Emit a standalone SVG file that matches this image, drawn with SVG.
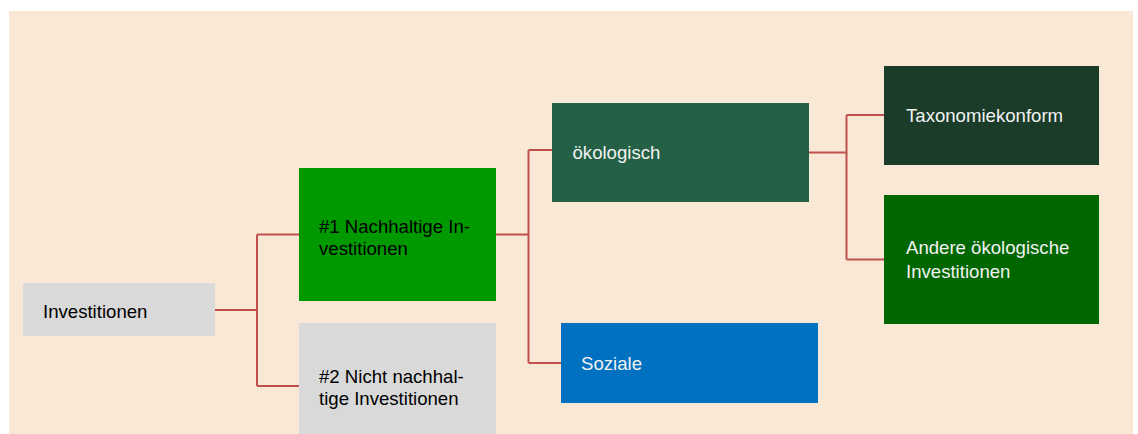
<svg xmlns="http://www.w3.org/2000/svg" width="1138" height="434" viewBox="0 0 1138 434">
<style>
.t{font-family:"Liberation Sans",Arial,sans-serif;font-size:18.6px}
.dk{fill:#000}
.lt{fill:#F2F2F2}
.c{fill:none;stroke:#C0504D;stroke-width:2}
</style>
<rect x="0" y="0" width="1138" height="434" fill="#FFFFFF"/>
<rect x="9" y="11" width="1124" height="423" fill="#FAE8D7"/>
<g id="connectors">
<path class="c" d="M215,310 H257 M257,234.5 V386 M257,234.5 H299 M257,386 H299"/>
<path class="c" d="M496,234.5 H528.5 M528.5,150 V363 M528.5,150 H552 M528.5,363 H561"/>
<path class="c" d="M809,152.5 H846.5 M846.5,115 V259.5 M846.5,115 H884 M846.5,259.5 H884"/>
</g>
<g id="n-investitionen">
<rect x="23" y="283" width="192" height="53" fill="#D9D9D9"/>
<text class="t dk" x="43" y="318">Investitionen</text>
</g>
<g id="n-nachhaltig">
<rect x="299" y="168" width="197" height="133" fill="#009900"/>
<text class="t dk" x="319" y="232.5">#1 Nachhaltige In-</text>
<text class="t dk" x="319" y="254.5">vestitionen</text>
</g>
<g id="n-nicht">
<rect x="299" y="323" width="197" height="111" fill="#D9D9D9"/>
<text class="t dk" x="319" y="383">#2 Nicht nachhal-</text>
<text class="t dk" x="319" y="405">tige Investitionen</text>
</g>
<g id="n-oekologisch">
<rect x="552" y="103" width="257" height="99" fill="#246046"/>
<text class="t lt" x="572.5" y="159">ökologisch</text>
</g>
<g id="n-soziale">
<rect x="561" y="323" width="257" height="80" fill="#0070C0"/>
<text class="t lt" x="581" y="370">Soziale</text>
</g>
<g id="n-taxonomie">
<rect x="884" y="66" width="215" height="99" fill="#1A3C28"/>
<text class="t lt" x="906" y="121.5">Taxonomiekonform</text>
</g>
<g id="n-andere">
<rect x="884" y="195" width="215" height="129" fill="#006600"/>
<text class="t lt" x="906" y="253.5">Andere ökologische</text>
<text class="t lt" x="906" y="277.5">Investitionen</text>
</g>
</svg>
